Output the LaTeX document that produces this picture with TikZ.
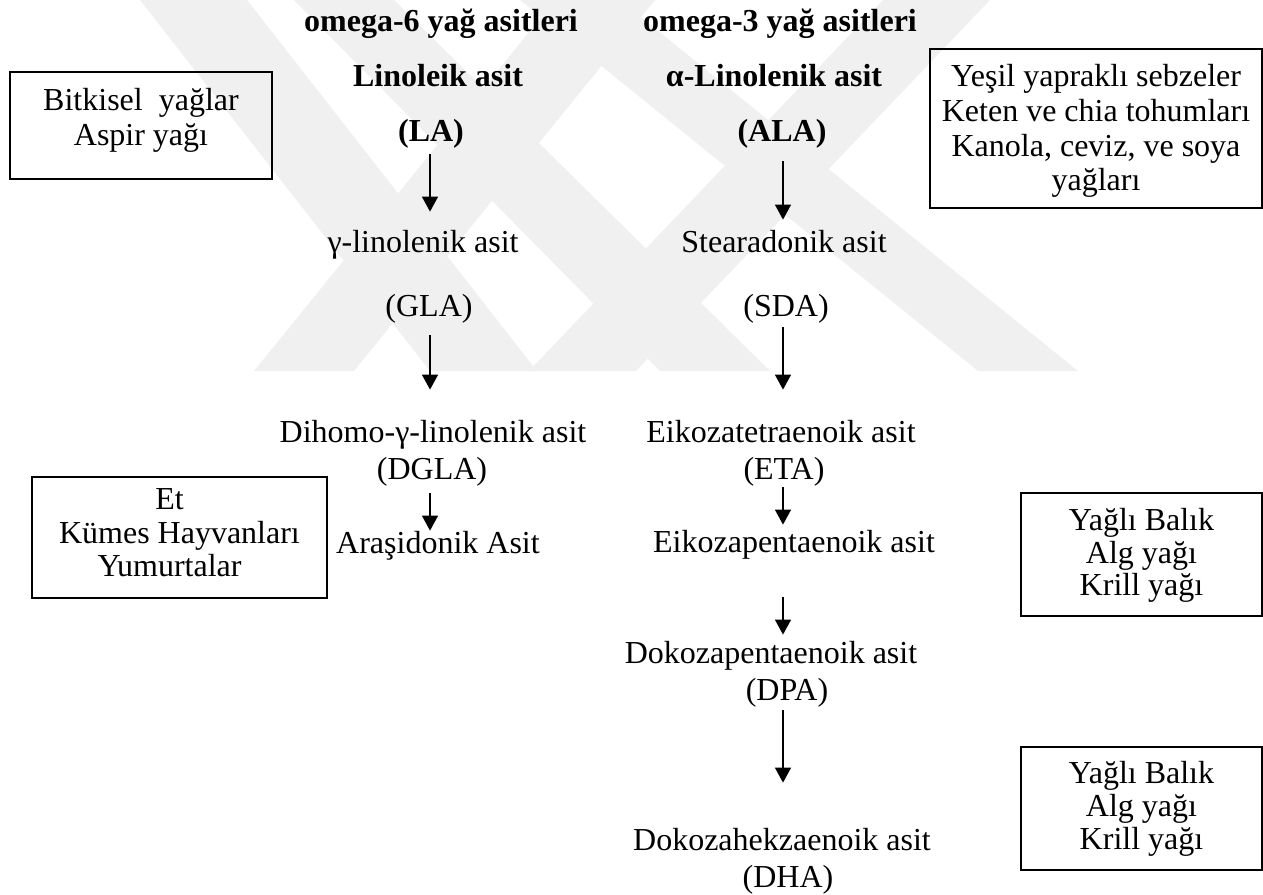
\documentclass[tikz,border=0pt]{standalone}
\usepackage{fontspec}
\setmainfont{Liberation Serif}
\usetikzlibrary{arrows.meta}
\begin{document}
\begin{tikzpicture}[x=0.5pt,y=-0.5pt,
  lbl/.style={inner sep=0pt, anchor=base, font=\fontsize{16pt}{18.4pt}\selectfont, text height=11pt, text depth=3.5pt},
  hd/.style={lbl, font=\fontsize{16pt}{18.4pt}\selectfont\bfseries},
  srcbox/.style={draw, line width=0.8pt, inner sep=0pt, align=center, anchor=north},
  arr/.style={-{Triangle[width=8pt,length=7.5pt]}, line width=0.65pt},
  wm/.style={fill=black!6, draw=none}]
\useasboundingbox (0,0) rectangle (1263,894);
% watermark
\begin{scope}
\clip (110,0) rectangle (1090,371);
\fill[wm] (140,0) -- (247,0) -- (537,371) -- (430,371) -- cycle;
\fill[wm] (294,0) -- (394,0) -- (770,371) -- (660,371) -- cycle;
\fill[wm] (555,0) -- (655,0) -- (354,371) -- (254,371) -- cycle;
\fill[wm] (883,0) -- (990,0) -- (636,371) -- (529,371) -- cycle;
\fill[wm] (520,0) -- (620,0) -- (1078,371) -- (978,371) -- cycle;
\end{scope}
% column axes
\coordinate (c6) at (430,0);
\coordinate (c3) at (783,0);
% headings
\node[hd] (o6) at (441,32) {omega-6 yağ asitleri};
\node[hd] (o3) at (780,32) {omega-3 yağ asitleri};
\node[hd] (lan) at (438,86) {Linoleik asit};
\node[hd] (alan) at (774,86) {α-Linolenik asit};
\node[hd] (la) at (431,141) {(LA)};
\node[hd] (ala) at (782,141) {(ALA)};
% omega-6 column
\node[lbl] (glan) at (423,252) {γ-linolenik asit};
\node[lbl] (gla) at (429,316) {(GLA)};
\node[lbl] (dglan) at (433,442) {Dihomo-γ-linolenik asit};
\node[lbl] (dgla) at (432,479) {(DGLA)};
\node[lbl] (ara) at (438,553) {Araşidonik Asit};
% omega-3 column
\node[lbl] (sdan) at (784,252) {Stearadonik asit};
\node[lbl] (sda) at (786,316) {(SDA)};
\node[lbl] (etan) at (781,442) {Eikozatetraenoik asit};
\node[lbl] (eta) at (784,479) {(ETA)};
\node[lbl] (epa) at (794,552) {Eikozapentaenoik asit};
\node[lbl] (dpan) at (771,663) {Dokozapentaenoik asit};
\node[lbl] (dpa) at (787,700) {(DPA)};
\node[lbl] (dhan) at (782,850) {Dokozahekzaenoik asit};
\node[lbl] (dha) at (788,887) {(DHA)};
% source boxes
\node[srcbox, minimum width=131pt, font=\fontsize{16pt}{17.5pt}\selectfont] (b1) at (141,71)
  {\rule{0pt}{19.5pt}Bitkisel\ \ yağlar\\Aspir yağı\rule[-16.5pt]{0pt}{16.5pt}};
\node[srcbox, minimum width=166pt, font=\fontsize{16pt}{17.33pt}\selectfont] (b2) at (1096,48)
  {\rule{0pt}{19pt}Yeşil yapraklı sebzeler\\Keten ve chia tohumları\\Kanola, ceviz, ve soya\\yağları\rule[-8.5pt]{0pt}{8.5pt}};
\node[srcbox, minimum width=147.5pt, font=\fontsize{16pt}{16.75pt}\selectfont] (b3) at (179.5,476)
  {\rule{0pt}{16.5pt}Et\hspace*{10pt}\\Kümes Hayvanları\hspace*{10pt}\\Yumurtalar\hspace*{10pt}\rule[-10.5pt]{0pt}{10.5pt}};
\node[srcbox, minimum width=120.5pt, font=\fontsize{16pt}{16.25pt}\selectfont] (b4) at (1141.5,492)
  {\rule{0pt}{19pt}Yağlı Balık\\Alg yağı\\Krill yağı\rule[-10pt]{0pt}{10pt}};
\node[srcbox, minimum width=120.5pt, font=\fontsize{16pt}{16.5pt}\selectfont] (b5) at (1141.5,746)
  {\rule{0pt}{18.5pt}Yağlı Balık\\Alg yağı\\Krill yağı\rule[-10pt]{0pt}{10pt}};
% arrows omega-6
\draw[arr, shorten <=3pt, shorten >=9pt] (c6 |- la.south) -- (c6 |- glan.north);
\draw[arr, shorten <=6pt, shorten >=15pt] (c6 |- gla.south) -- (c6 |- dglan.north);
\draw[arr, shorten <=3.5pt] (c6 |- dgla.south) -- (c6 |- ara.north);
% arrows omega-3
\draw[arr, shorten <=6.5pt, shorten >=5pt] (c3 |- ala.south) -- (c3 |- sdan.north);
\draw[arr, shorten <=2pt, shorten >=15pt] (c3 |- sda.south) -- (c3 |- etan.north);
\draw[arr, shorten <=0.5pt, shorten >=2.5pt] (c3 |- eta.south) -- (c3 |- epa.north);
\draw[arr, shorten <=19pt, shorten >=3pt] (c3 |- epa.south) -- (c3 |- dpan.north);
\draw[arr, shorten <=1.5pt, shorten >=22.5pt] (c3 |- dpa.south) -- (c3 |- dhan.north);
\end{tikzpicture}
\end{document}
